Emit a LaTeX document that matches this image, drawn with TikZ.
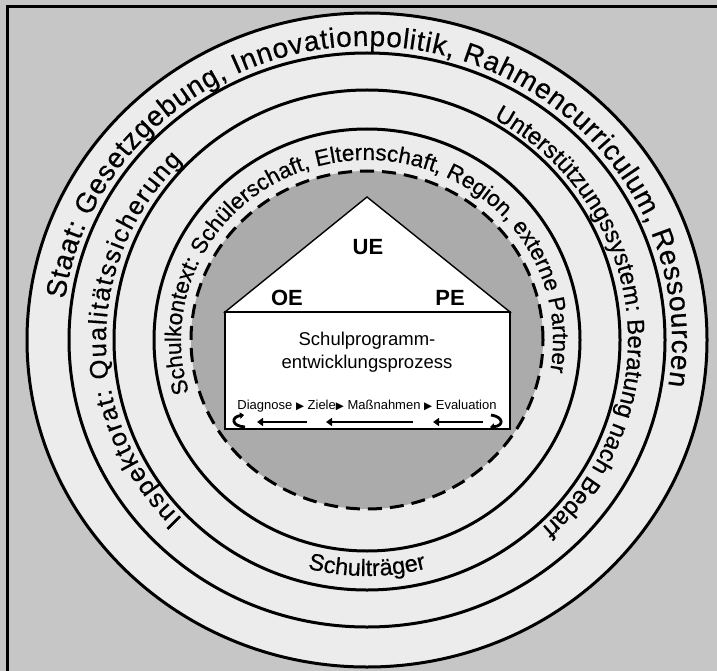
\documentclass[tikz,border=0pt]{standalone}
\usepackage{fontspec}
\setmainfont{Liberation Sans}
\newfontfamily\ringfont[FakeBold=0.5]{Liberation Sans}
\newfontfamily\symfont{DejaVu Sans}
\usetikzlibrary{decorations.text,calc,arrows.meta}

\definecolor{paper}{HTML}{C6C6C6}
\definecolor{ringfill}{HTML}{ECECEC}
\definecolor{core}{HTML}{ABABAB}

\newcommand\ringAfont{\ringfont\fontsize{28}{28}\selectfont}
\newcommand\ringBfont{\ringfont\fontsize{25.5}{25.5}\selectfont}
\newcommand\ringBBfont{\ringfont\fontsize{24}{24}\selectfont}
\newcommand\ringCfont{\ringfont\fontsize{22.5}{22.5}\selectfont}
\newcommand\ringDfont{\ringfont\fontsize{23.5}{23.5}\selectfont}
\newcommand\steptri{{\symfont\fontsize{10.5}{10.5}\selectfont ▶}}

\tikzset{
  ringline/.style={line width=3pt},
  dashring/.style={line width=3pt, dash pattern=on 14pt off 8pt},
  housebox/.style={fill=white, draw=black, line width=1.4pt},
  bigtag/.style={font=\fontsize{22}{22}\selectfont\bfseries},
  cycarrow/.style={line width=2.6pt, -{Triangle[length=6pt,width=8pt]}},
  hookarrow/.style={line width=2.8pt, -{Triangle[length=4pt,width=6.5pt]}},
}

\begin{document}
\begin{tikzpicture}[x=1pt,y=1pt]
  \fill[paper] (0,0) rectangle (717,-671);
  \useasboundingbox (0,0) rectangle (717,-671);

  % frame
  \coordinate (fbl) at (7,-671);
  \coordinate (ftl) at (7,-7);
  \coordinate (ftr) at (717,-7);
  \draw[line width=3pt] (fbl) -- (ftl) -- (ftr);

  \coordinate (C) at (367,-340);

  % rings
  \filldraw[fill=ringfill, ringline] (C) ellipse[x radius=340, y radius=327];
  \draw[ringline] (C) ellipse[x radius=298, y radius=287];
  \draw[ringline] (C) ellipse[x radius=253, y radius=250];
  \draw[ringline] (C) ellipse[x radius=213, y radius=211];
  \filldraw[fill=core, dashring] (C) ellipse[x radius=176, y radius=169];

  % outer ring text
  \path[decorate, decoration={text along path, text align=fit to path,
      text={|\ringAfont|Staat: Gesetzgebung, Innovationpolitik, Rahmencurriculum, Ressourcen}}]
    ($(C)+(172:305 and 294)$) arc[start angle=172, end angle=-9, x radius=305, y radius=294];

  % second ring, left and right
  \path[decorate, decoration={text along path, text align=fit to path,
      text={|\ringBfont|Inspektorat: Qualitätssicherung}}]
    ($(C)+(225:261 and 253)$) arc[start angle=225, end angle=135, x radius=261, y radius=253];
  \path[decorate, decoration={text along path, text align=fit to path,
      text={|\ringBBfont|Unterstützungssystem: Beratung nach Bedarf}}]
    ($(C)+(61:261 and 253)$) arc[start angle=61, end angle=-48, x radius=261, y radius=253];

  % third ring, bottom
  \path[decorate, decoration={text along path, text align=center,
      text={|\ringDfont|Schulträger}}]
    ($(C)+(240:238 and 236)$) arc[start angle=240, end angle=300, x radius=238, y radius=236];

  % fourth ring
  \path[decorate, decoration={text along path, text align=fit to path,
      text={|\ringCfont|Schulkontext: Schülerschaft, Elternschaft, Region, externe Partner}}]
    ($(C)+(197:186 and 180)$) arc[start angle=197, end angle=-9, x radius=186, y radius=180];

  % house
  \coordinate (apex) at (367,-197);
  \coordinate (roofL) at (225,-312);
  \coordinate (roofR) at (510,-312);
  \coordinate (baseR) at (510,-429);
  \filldraw[housebox] (roofL) -- (apex) -- (roofR) -- cycle;
  \filldraw[housebox] (roofL) rectangle (baseR);

  \node[bigtag] (ue) at (368,-247) {UE};
  \node[bigtag] (oe) at (287,-298) {OE};
  \node[bigtag] (pe) at (450,-298) {PE};

  \node[align=center, font=\fontsize{18.5}{23}\selectfont] (spe) at (367,-352)
    {Schulprogramm-\\entwicklungsprozess};

  \node[font=\fontsize{13}{13}\selectfont, inner sep=0pt] (steps) at (367,-406)
    {Diagnose \steptri{} Ziele\steptri{} Maßnahmen \steptri{} Evaluation};

  % feedback arrows
  \coordinate (a1s) at (307,-422);
  \coordinate (a1e) at (257,-422);
  \coordinate (a2s) at (413,-422);
  \coordinate (a2e) at (326,-422);
  \coordinate (a3s) at (483,-422);
  \coordinate (a3e) at (433,-422);
  \draw[cycarrow] (a1s) -- (a1e);
  \draw[cycarrow] (a2s) -- (a2e);
  \draw[cycarrow] (a3s) -- (a3e);

  \coordinate (hRs) at (491,-415);
  \coordinate (hRe) at (490,-427);
  \draw[hookarrow] (hRs) .. controls (504,-417) and (504,-426) .. (hRe);
  \coordinate (hLs) at (245,-427);
  \coordinate (hLe) at (244,-415);
  \draw[hookarrow] (hLs) .. controls (231,-426) and (231,-417) .. (hLe);
\end{tikzpicture}
\end{document}
